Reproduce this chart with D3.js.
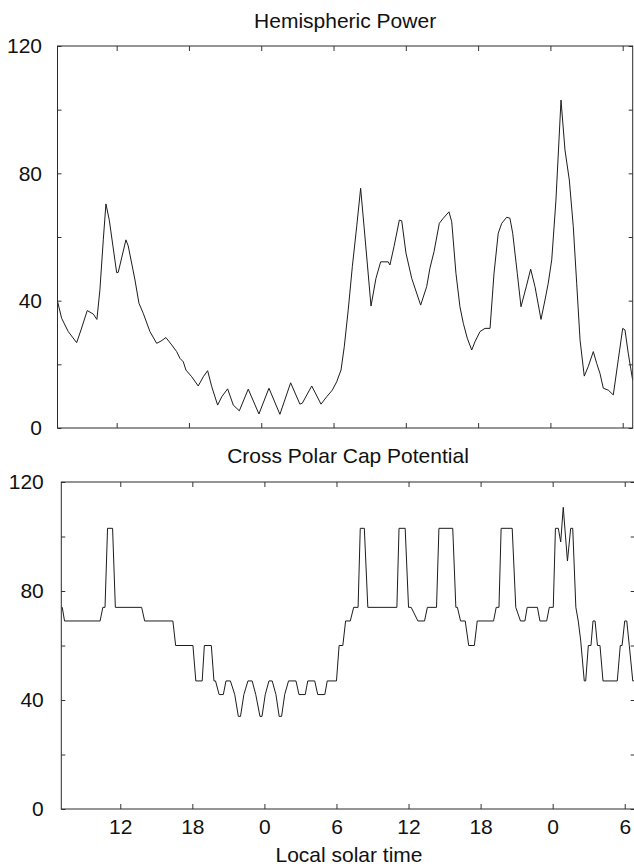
<!DOCTYPE html>
<html>
<head>
<meta charset="utf-8">
<script src="https://cdn.jsdelivr.net/npm/d3@7"></script>
<style>
  html, body { margin: 0; padding: 0; background: #fff; }
  svg { display: block; }
  text { font-family: "Liberation Sans", Arial, Helvetica, sans-serif; fill: #111; }
</style>
</head>
<body>
<svg id="chart" width="634" height="866"></svg>
<script>
// Local solar time runs continuously in hours; 24 and 48 are the two midnights.
const hourDomain = [7.09, 54.83];
const hourTicks = [12, 18, 24, 30, 36, 42, 48, 54];
const hourLabels = ["12", "18", "0", "6", "12", "18", "0", "6"];

const valueDomain = [0, 120];
const valueTicks = [0, 20, 40, 60, 80, 100, 120];
const valueLabels = ["0", "", "40", "", "80", "", "120"];

// Hemispheric power
const powerHours = [7.10,7.43,7.98,8.68,9.04,9.56,10.06,10.36,10.61,10.89,11.11,11.39,
  12.00,12.13,12.77,12.96,13.52,13.85,14.21,14.76,15.32,15.68,16.09,16.57,16.98,17.25,17.53,17.75,
  18.23,18.77,19.19,19.55,19.89,20.38,20.72,21.21,21.68,22.18,22.92,23.81,24.64,25.55,26.44,27.21,27.41,
  28.19,28.96,29.43,29.90,30.26,30.62,30.89,31.22,31.56,31.92,32.25,32.61,33.11,33.52,33.91,34.54,34.68,
  35.02,35.46,35.66,36.01,36.49,37.23,37.73,38.00,38.34,38.78,39.11,39.58,39.81,40.16,40.49,40.77,41.10,
  41.47,41.74,42.16,42.57,42.99,43.32,43.67,43.96,44.37,44.64,44.87,45.25,45.56,46.03,46.36,46.72,47.22,
  47.55,47.82,48.11,48.46,48.88,49.21,49.57,49.90,50.18,50.46,50.81,51.14,51.56,51.84,52.11,52.39,52.80,
  53.22,53.63,54.00,54.19,54.46,54.83];
const powerValues = [39.7,34.5,30.3,26.8,30.8,36.9,35.8,34.1,43.4,59.1,70.4,65.3,
  48.8,48.9,59.1,57.2,46.5,39.2,36.0,30.3,26.6,27.3,28.4,26.1,24.0,21.9,20.8,18.2,
  16.1,13.2,16.1,18.0,13.0,7.2,9.8,12.3,7.2,5.4,12.2,4.4,12.5,4.3,14.2,7.5,7.8,
  13.2,7.5,9.8,11.9,14.5,18.2,25.5,37.1,50.7,63.2,75.3,60,38.3,47,52.2,52.2,51.2,
  57,65.3,65.1,55,47.0,38.6,44.4,50.2,55.4,64.3,65.9,67.9,64.8,48.6,38.1,32.9,28.2,
  24.5,27.1,30.3,31.3,31.3,48.6,61.2,64.3,66.2,65.9,61.2,48.6,38.1,44.9,49.9,44.4,34.1,
  40.2,45.5,52.8,71.6,103.0,87.3,77.9,63.2,45.5,27.6,16.3,19.3,24.0,20.3,17.2,12.5,11.9,
  10.4,21.4,31.3,30.8,23.5,15];

// Cross polar cap potential
const potentialHours = [7.09,7.17,7.36,10.32,10.55,10.73,10.94,11.36,11.59,13.78,
  14.03,16.38,16.61,18.05,18.29,18.82,19.00,19.58,19.80,19.93,
  20.23,20.58,20.80,21.17,21.53,21.83,22.01,22.29,22.63,22.98,
  23.28,23.63,23.80,24.07,24.38,24.65,24.96,25.23,25.43,25.69,
  26.01,26.63,26.88,27.40,27.61,28.19,28.44,29.03,29.23,30.00,
  30.22,30.53,30.76,31.15,31.43,31.80,31.98,32.32,32.61,35.03,
  35.21,35.72,36.00,36.22,36.78,37.33,37.57,38.33,38.53,39.68,
  39.94,40.07,40.33,40.72,41.01,41.48,41.72,43.08,43.30,43.53,
  43.71,44.63,44.93,45.32,45.69,45.88,46.73,46.94,47.50,47.72,
  48.05,48.23,48.47,48.67,48.88,49.23,49.50,49.67,49.93,50.13,
  50.33,50.63,50.75,50.97,51.19,51.36,51.53,51.73,51.94,52.19,
  53.38,53.63,53.78,54.00,54.17,54.38,54.67,54.83];
const potentialValues = [74,74,69,69,74,74,103,103,74,74,
  69,69,60,60,47,47,60,60,47,47,
  42,42,47,47,42,34,34,42,47,47,
  42,34,34,42,47,47,42,34,34,42,
  47,47,42,42,47,47,42,42,47,47,
  60,60,69,69,74,74,103,103,74,74,
  103,103,74,74,69,69,74,74,103,103,
  74,74,69,69,60,60,69,69,74,74,
  103,103,74,69,69,74,74,69,69,74,
  74,103,103,98,110.7,91,103,103,74,69,
  62,47,47,60,60,69,69,60,60,47,
  47,60,60,69,69,60,47,47];

// Panel layout
const panels = [
  { title: "Hemispheric Power", hours: powerHours, values: powerValues,
    left: 57.5, right: 632.7, top: 46, bottom: 428, titleY: 28, labelPad: 15.5, xLabels: false },
  { title: "Cross Polar Cap Potential", hours: potentialHours, values: potentialValues,
    left: 61.3, right: 634.7, top: 482, bottom: 809, titleY: 463, labelPad: 17.5, xLabels: true }
];

const svg = d3.select("#chart");
svg.append("rect").attr("width", 634).attr("height", 866).attr("fill", "#fff");

const FONT = 21;
const INK = "#1c1c1c";

panels.forEach((p, i) => {
  const x = d3.scaleLinear().domain(hourDomain).range([p.left, p.right]);
  const y = d3.scaleLinear().domain(valueDomain).range([p.bottom, p.top]);
  const g = svg.append("g");

  // data line, clipped to the frame
  const clipId = "clip" + i;
  g.append("clipPath").attr("id", clipId)
    .append("rect")
    .attr("x", p.left).attr("y", p.top - 2)
    .attr("width", p.right - p.left).attr("height", p.bottom - p.top + 2);

  const line = d3.line().x(d => x(d[0])).y(d => y(d[1]));
  g.append("path")
    .datum(p.hours.map((h, k) => [h, p.values[k]]))
    .attr("clip-path", `url(#${clipId})`)
    .attr("fill", "none")
    .attr("stroke", INK)
    .attr("stroke-width", 1)
    .attr("stroke-linejoin", "round")
    .attr("d", line);

  // axes: inward ticks on all four sides
  const styleAxis = sel => {
    sel.select(".domain").remove();
    sel.selectAll(".tick line").attr("stroke", "#333").attr("stroke-width", 1);
    sel.selectAll(".tick text").attr("font-size", FONT).attr("fill", "#111")
      .attr("font-family", '"Liberation Sans", Arial, Helvetica, sans-serif');
  };

  g.append("g").attr("transform", `translate(${p.left},0)`)
    .call(d3.axisLeft(y).tickValues(valueTicks)
      .tickFormat((d, k) => valueLabels[k]).tickSize(-4).tickPadding(p.labelPad))
    .call(styleAxis);

  g.append("g").attr("transform", `translate(${p.right},0)`)
    .call(d3.axisRight(y).tickValues(valueTicks).tickFormat("").tickSize(-4))
    .call(styleAxis);

  g.append("g").attr("transform", `translate(0,${p.top})`)
    .call(d3.axisTop(x).tickValues(hourTicks).tickFormat("").tickSize(-5))
    .call(styleAxis);

  g.append("g").attr("transform", `translate(0,${p.bottom})`)
    .call(d3.axisBottom(x).tickValues(hourTicks)
      .tickFormat((d, k) => p.xLabels ? hourLabels[k] : "").tickSize(-5).tickPadding(10))
    .call(styleAxis);

  // frame
  g.append("rect")
    .attr("x", p.left).attr("y", p.top)
    .attr("width", p.right - p.left).attr("height", p.bottom - p.top)
    .attr("fill", "none").attr("stroke", "#2a2a2a").attr("stroke-width", 1);

  // panel title
  svg.append("text")
    .attr("x", (p.left + p.right) / 2).attr("y", p.titleY)
    .attr("text-anchor", "middle").attr("font-size", FONT)
    .text(p.title);
});

// x-axis title
svg.append("text")
  .attr("x", 349).attr("y", 862)
  .attr("text-anchor", "middle").attr("font-size", FONT)
  .text("Local solar time");
</script>
</body>
</html>
